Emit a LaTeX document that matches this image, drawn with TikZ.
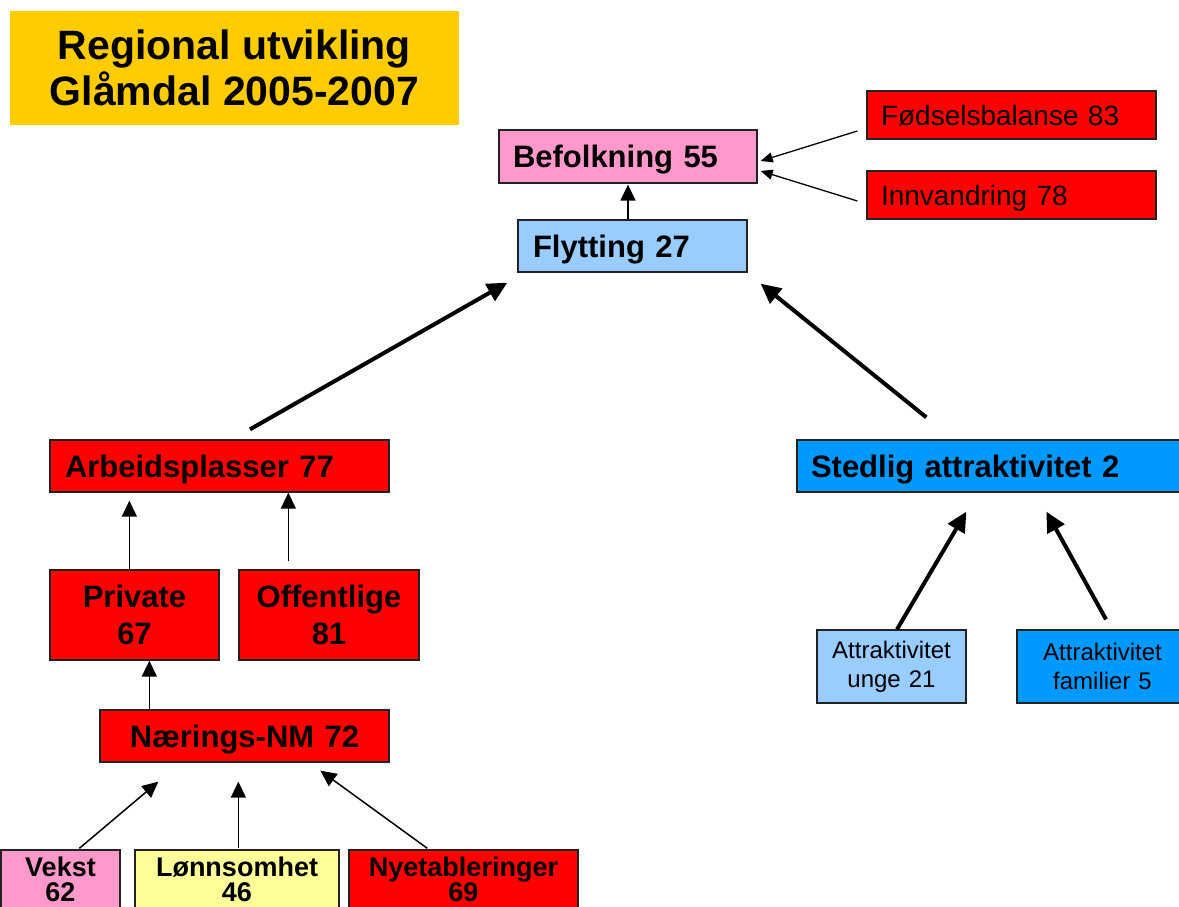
\documentclass[tikz,border=0pt]{standalone}
\usepackage{fontspec}
\setmainfont{Liberation Sans}
\usetikzlibrary{arrows.meta}
\definecolor{cpink}{HTML}{FF99CC}
\definecolor{clblue}{HTML}{99CCFF}
\definecolor{cblue}{HTML}{0099FF}
\definecolor{cred}{HTML}{FF0000}
\definecolor{cyell}{HTML}{FFFF99}
\definecolor{cgold}{HTML}{FFCC00}
\definecolor{cborder}{HTML}{222222}
\begin{document}
\begin{tikzpicture}[x=1pt,y=-1pt,
  box/.style={draw=cborder,line width=1.3pt,rectangle,inner ysep=0pt},
  lbox/.style={box,inner xsep=14pt,align=left,text depth=0pt},
  cbox/.style={box,inner xsep=0pt,align=center},
  bigb/.style={font=\fontsize{31}{37}\selectfont\bfseries},
  smallb/.style={font=\fontsize{27}{25}\selectfont\bfseries},
  reg/.style={font=\fontsize{28}{32}\selectfont},
  regs/.style={font=\fontsize{24}{29}\selectfont},
  thinarr/.style={line width=1.5pt,-{Triangle[length=16pt,width=15pt]}},
  tinyarr/.style={line width=1.3pt,-{Triangle[length=12pt,width=10pt]}},
  thickarr/.style={line width=4pt,-{Triangle[length=20pt,width=19pt]}}
]
\fill[white] (0,0) rectangle (1179,907);
\useasboundingbox (0,0) rectangle (1179,907);

% title
\node[fill=cgold,minimum width=449pt,minimum height=114pt,inner sep=0pt,align=center,
  font=\fontsize{41}{46}\selectfont\bfseries] (title) at (234.5,68) {Regional utvikling\\Glåmdal 2005-2007};

% top
\node[lbox,bigb,fill=cpink,minimum width=258pt,minimum height=53pt,text width=230pt] (bef) at (628,156.5) {Befolkning 55};
\node[lbox,bigb,fill=clblue,minimum width=229pt,minimum height=52pt,text width=199pt,inner xsep=15pt] (fly) at (632.5,246) {Flytting 27};
\node[lbox,reg,fill=cred,minimum width=289pt,minimum height=48pt,text width=261pt] (fod) at (1011.5,115) {Fødselsbalanse 83};
\node[lbox,reg,fill=cred,minimum width=289pt,minimum height=48pt,text width=261pt] (inn) at (1011.5,195) {Innvandring 78};

% middle
\node[lbox,bigb,fill=cred,minimum width=339pt,minimum height=52pt,text width=309pt,inner xsep=15pt] (arb) at (219.5,466) {Arbeidsplasser 77};
\node[lbox,bigb,fill=cblue,minimum width=393pt,minimum height=52pt,text width=365pt] (sted) at (993.5,466) {Stedlig attraktivitet 2};

\node[cbox,bigb,fill=cred,minimum width=169pt,minimum height=90pt,text width=169pt] (priv) at (134.5,615) {Private\\67};
\node[cbox,bigb,fill=cred,minimum width=180pt,minimum height=90pt,text width=180pt] (off) at (329,615) {Offentlige\\81};
\node[cbox,bigb,fill=cred,minimum width=289pt,minimum height=52pt,text width=289pt,text depth=0pt] (naer) at (244.5,736) {Nærings-NM 72};

\node[cbox,regs,fill=clblue,minimum width=149pt,minimum height=73pt,text width=149pt] (unge) at (891.5,666.5) {Attraktivitet\\unge 21};
\node[cbox,regs,fill=cblue,minimum width=171pt,minimum height=73pt,text width=171pt] (fam) at (1102.5,666.5) {Attraktivitet\\familier 5};

% bottom row
\node[cbox,smallb,fill=cpink,minimum width=119pt,minimum height=58pt,text width=119pt] (vekst) at (60.5,879) {Vekst\\62};
\node[cbox,smallb,fill=cyell,minimum width=204pt,minimum height=58pt,text width=204pt] (lonn) at (237,879) {Lønnsomhet\\46};
\node[cbox,smallb,fill=cred,minimum width=229pt,minimum height=58pt,text width=229pt] (nye) at (463.5,879) {Nyetableringer\\69};

% connectors
\draw[tinyarr] ([xshift=-9pt,yshift=-16pt]fod.west) -- ([xshift=3pt,yshift=-4.5pt]bef.east);
\draw[tinyarr] ([xshift=-9pt,yshift=-6pt]inn.west) -- ([xshift=3pt,yshift=-14.5pt]bef.east);
\draw[thinarr] ([xshift=-4.5pt]fly.north) -- ([yshift=-1pt]bef.south);

\draw[thickarr] ([xshift=30.5pt,yshift=10pt]arb.north) -- ([xshift=-10pt,yshift=-10pt]fly.south west);
\draw[thickarr] ([xshift=130pt,yshift=22pt]sted.north west) -- ([xshift=13pt,yshift=-11pt]fly.south east);
\draw[thickarr] ([xshift=5.5pt]unge.north) -- ([xshift=170pt,yshift=-19pt]sted.south west);
\draw[thickarr] ([xshift=3.5pt,yshift=10pt]fam.north) -- ([xshift=250pt,yshift=-19pt]sted.south west);

\draw[thinarr] ([xshift=80pt]priv.north west) -- ([xshift=80pt,yshift=-8pt]arb.south west);
\draw[thinarr] ([xshift=50pt,yshift=8pt]off.north west) -- ([xshift=239pt]arb.south west);
\draw[thinarr] ([xshift=50pt]naer.north west) -- ([xshift=100pt]priv.south west);

\draw[thinarr] ([xshift=79pt,yshift=1pt]vekst.north west) -- ([xshift=59pt,yshift=-19pt]naer.south west);
\draw[thinarr] ([xshift=104pt,yshift=1pt]lonn.north west) -- ([xshift=139pt,yshift=-19pt]naer.south west);
\draw[thinarr] ([xshift=79pt,yshift=1pt]nye.north west) -- ([xshift=221pt,yshift=-8pt]naer.south west);
\end{tikzpicture}
\end{document}
